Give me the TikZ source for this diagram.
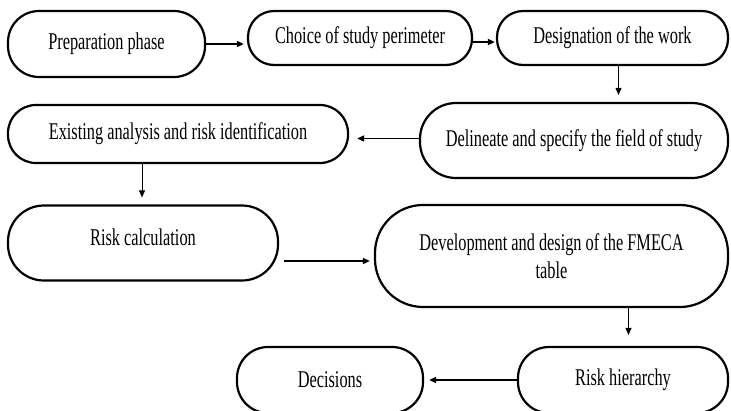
\documentclass[tikz,border=0pt]{standalone}
\usepackage{fontspec}
\setmainfont{Liberation Serif}[FakeStretch=0.68]
\usetikzlibrary{calc, arrows.meta}

\begin{document}
\begin{tikzpicture}[x=1pt,y=-1pt,
        phase/.style={align=center,rectangle,draw,line width=2.2pt,inner sep=0pt,rounded corners=26pt,font=\fontsize{24}{28}\selectfont},
        link/.style={line width=1.6pt,-{Triangle[length=7pt,width=6pt]}},
        thinlink/.style={line width=.9pt,-{Triangle[length=7pt,width=6pt]}}]
        \useasboundingbox (0,0) rectangle (731,410);
        \clip (0,0) rectangle (731,410);
        \node [phase,minimum width=197pt,minimum height=66pt,rounded corners=31pt] (prep) at (106.5,44) {Preparation phase};
        \node [phase,minimum width=224pt,minimum height=54pt] (choice) at (360,38) {Choice of study perimeter};
        \node [phase,minimum width=231pt,minimum height=54pt] (design) at (612.5,38) {Designation of the work};
        \node [phase,minimum width=308pt,minimum height=75pt,rounded corners=36pt] (delin) at (574,140.5) {Delineate and specify the field of study};
        \node [phase,minimum width=340pt,minimum height=58pt,rounded corners=28pt] (exist) at (178,134) {Existing analysis and risk identification};
        \node [phase,minimum width=270pt,minimum height=75pt,rounded corners=36pt] (calc) at (143,243) {Risk calculation\\[-16pt] \mbox{}};
        \node [phase,minimum width=353pt,minimum height=102pt,rounded corners=48pt] (dev) at (551.5,256) {Development and design of the FMECA\\table};
        \node [phase,minimum width=210pt,minimum height=66pt,rounded corners=31pt] (hier) at (623,380) {Risk hierarchy};
        \node [phase,minimum width=186pt,minimum height=66pt,rounded corners=31pt] (dec) at (330,380) {Decisions};
        \draw[link,shorten >=3pt] (prep.east) -- (prep.east -| choice.west);
        \draw[link,shorten >=1pt] ([yshift=-4pt]choice.east) -- ([yshift=-4pt]design.west);
        \draw[thinlink,shorten >=7pt] ([xshift=6pt]design.south) -- ([xshift=6pt]design.south |- delin.north);
        \draw[link,shorten >=8pt] ([yshift=2pt]delin.west) -- ([yshift=2pt]delin.west -| exist.east);
        \draw[thinlink,shorten >=7pt] ([xshift=-36pt]exist.south) -- ([xshift=-36pt]exist.south |- calc.north);
        \draw[link,shorten <=5pt,shorten >=4pt] ([yshift=-18pt]calc.east) -- ([yshift=-18pt]calc.east -| dev.west);
        \draw[thinlink,shorten >=11pt] ([xshift=77pt]dev.south) -- ([xshift=77pt]dev.south |- hier.north);
        \draw[link,shorten >=5pt] (hier.west) -- (dec.east);
    \end{tikzpicture}
\end{document}
